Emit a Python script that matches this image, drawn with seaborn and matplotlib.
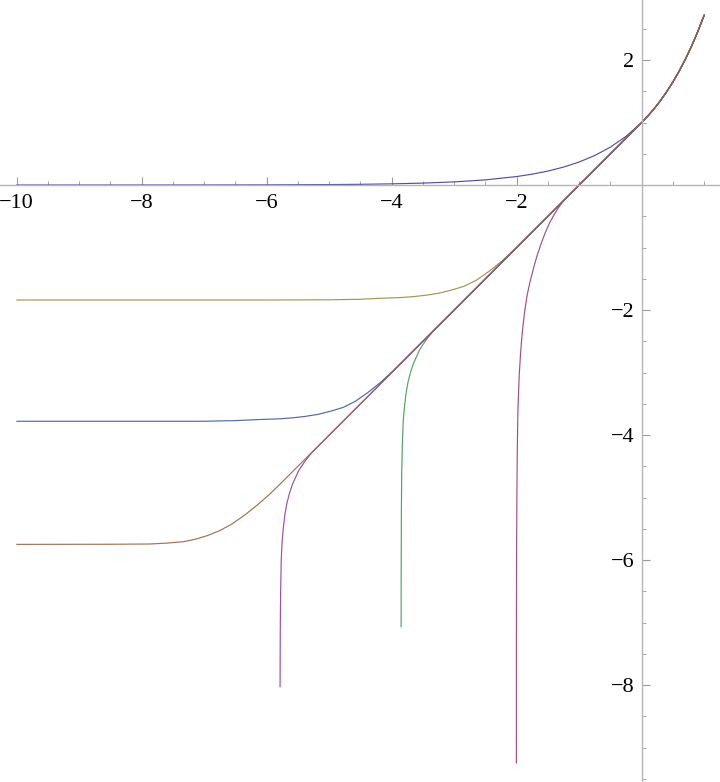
import matplotlib
matplotlib.use("Agg")
import matplotlib.pyplot as plt
from matplotlib.ticker import MultipleLocator
import pandas as pd
import seaborn as sns

# ---- data ----
# shared right-hand branch (tangent line then exponential) of curves 2-7
tail_x = [-1.0, -0.5, 0.0, 0.1, 0.2, 0.3, 0.4, 0.5, 0.6, 0.7, 0.8, 0.9, 1.0]
tail_y = [0.0, 0.5, 1.0, 1.105, 1.221, 1.35, 1.492, 1.649, 1.822, 2.014, 2.226, 2.46, 2.718]

c1_x = [-10, -9, -8, -7, -6, -5, -4.5, -4, -3.5, -3, -2.5, -2, -1.75, -1.5, -1.25, -1,
        -0.75, -0.5, -0.25, 0, 0.1, 0.2, 0.3, 0.4, 0.5, 0.6, 0.7, 0.8, 0.9, 1.0]
c1_y = [0.0000454, 0.000123, 0.000335, 0.000912, 0.00248, 0.00674, 0.0111, 0.0183, 0.0302,
        0.0498, 0.0821, 0.1353, 0.1738, 0.2231, 0.2865, 0.3679, 0.4724, 0.6065, 0.7788, 1.0,
        1.105, 1.221, 1.35, 1.492, 1.649, 1.822, 2.014, 2.226, 2.46, 2.718]

c2_x = [-2.005, -2.0045, -2.004, -2.002, -1.997, -1.99, -1.98, -1.96, -1.935, -1.91, -1.87,
        -1.83, -1.787, -1.73, -1.68, -1.62, -1.55, -1.48, -1.41, -1.34, -1.27, -1.2]
c2_y = [-9.25, -8.0, -7.0, -6.0, -5.0, -4.2, -3.6, -3.05, -2.65, -2.35, -2.0,
        -1.75, -1.55, -1.33, -1.15, -0.97, -0.78, -0.62, -0.49, -0.375, -0.28, -0.2]

c3_x = [-10, -6, -5, -4.5, -4.19, -3.84, -3.64, -3.44, -3.24, -3.04, -2.84, -2.64, -2.44,
        -2.24, -2.04]
c3_y = [-1.84, -1.84, -1.837, -1.828, -1.813, -1.80, -1.785, -1.762, -1.73, -1.68, -1.62,
        -1.52, -1.38, -1.22, -1.035]

c4_x = [-3.8492, -3.848, -3.845, -3.84, -3.83, -3.815, -3.795, -3.77, -3.74, -3.70, -3.65,
        -3.55, -3.45, -3.35]
c4_y = [-7.07, -6.15, -5.245, -4.64, -4.17, -3.765, -3.545, -3.33, -3.16, -3.0, -2.85,
        -2.63, -2.48, -2.355]

c5_x = [-10, -7, -6.5, -6.13, -5.78, -5.58, -5.38, -5.18, -4.98, -4.78, -4.58, -4.38,
        -4.18, -3.98]
c5_y = [-3.78, -3.78, -3.77, -3.753, -3.74, -3.725, -3.702, -3.67, -3.62, -3.56, -3.46,
        -3.32, -3.16, -2.975]

c6_x = [-10, -8.5, -7.87, -7.6, -7.33, -7.15, -6.95, -6.75, -6.55, -6.35, -6.15, -5.95, -5.75]
c6_y = [-5.75, -5.748, -5.744, -5.73, -5.707, -5.67, -5.61, -5.53, -5.42, -5.28, -5.12,
        -4.945, -4.75]

c7_x = [-5.786, -5.783, -5.778, -5.768, -5.753, -5.733, -5.708, -5.678, -5.638, -5.588,
        -5.488, -5.388, -5.288]
c7_y = [-8.03, -7.18, -6.58, -6.02, -5.70, -5.48, -5.27, -5.10, -4.94, -4.79, -4.57,
        -4.42, -4.293]

x_major = [-10, -8, -6, -4, -2]
x_labels = ["\u221210", "\u22128", "\u22126", "\u22124", "\u22122"]
y_major = [-8, -6, -4, -2, 2]
y_labels = ["\u22128", "\u22126", "\u22124", "\u22122", "2"]

colors = {
    "c1": (0.2472, 0.24, 0.6),
    "c2": (0.6, 0.24, 0.4429),
    "c3": (0.6, 0.547, 0.24),
    "c4": (0.24, 0.6, 0.337),
    "c5": (0.24, 0.353, 0.6),
    "c6": (0.6, 0.386, 0.24),
    "c7": (0.563, 0.24, 0.6),
}

# ---- build long table ----
series = {
    "c1": (c1_x, c1_y),
    "c2": (c2_x + tail_x, c2_y + tail_y),
    "c3": (c3_x + tail_x, c3_y + tail_y),
    "c4": (c4_x + tail_x, c4_y + tail_y),
    "c5": (c5_x + tail_x, c5_y + tail_y),
    "c6": (c6_x + tail_x, c6_y + tail_y),
    "c7": (c7_x + tail_x, c7_y + tail_y),
}
rows = []
for name, (xs, ys) in series.items():
    for i, (xv, yv) in enumerate(zip(xs, ys)):
        rows.append({"curve": name, "order": i, "x": xv, "y": yv})
df = pd.DataFrame(rows)

sns.set_theme(style="white")
plt.rcParams["font.family"] = ["Liberation Serif", "DejaVu Serif"]

fig = plt.figure(figsize=(7.2, 7.82), dpi=100)
ax = fig.add_axes([0, 0, 1, 1])

hue_order = ["c1", "c2", "c3", "c4", "c5", "c7", "c6"]
for name in hue_order:
    sub = df[df["curve"] == name]
    sns.lineplot(data=sub, x="x", y="y", color=colors[name], linewidth=0.85,
                 sort=False, estimator=None, legend=False, ax=ax, alpha=0.9)

ax.set_xlim(-10.267, 1.253)
ax.set_ylim(-9.552, 2.96)
ax.set_xlabel("")
ax.set_ylabel("")

for s in ["top", "right"]:
    ax.spines[s].set_visible(False)
ax.spines["left"].set_position(("data", 0))
ax.spines["bottom"].set_position(("data", 0))
for s in ["left", "bottom"]:
    ax.spines[s].set_color("#b5b5b5")
    ax.spines[s].set_linewidth(1.0)
    ax.spines[s].set_visible(True)

ax.set_xticks(x_major)
ax.set_xticklabels(x_labels)
ax.set_yticks(y_major)
ax.set_yticklabels(y_labels)
ax.xaxis.set_minor_locator(MultipleLocator(0.5))
ax.yaxis.set_minor_locator(MultipleLocator(0.5))

ax.tick_params(axis="both", which="both", bottom=True, left=True, top=False, right=False)
ax.tick_params(axis="both", which="major", direction="in", length=5.8, width=0.8,
               color="#9a9a9a", labelsize=16, labelcolor="black")
ax.tick_params(axis="both", which="minor", direction="in", length=2.9, width=0.7,
               color="#a5a5a5")
ax.tick_params(axis="x", which="major", pad=6.5)
ax.tick_params(axis="y", which="major", pad=5.5)
ax.grid(False)

fig.savefig("out.png", dpi=100)
